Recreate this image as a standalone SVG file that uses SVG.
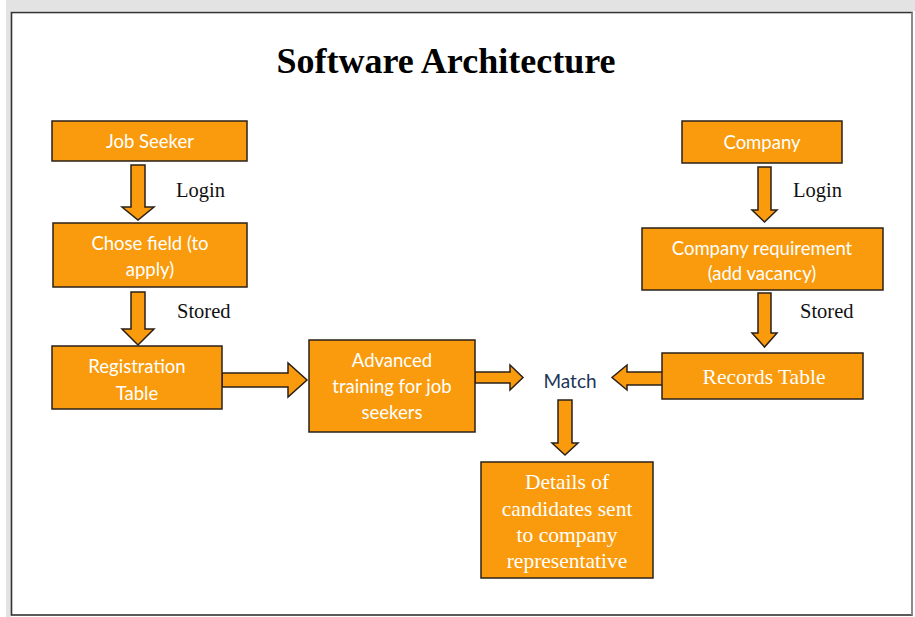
<svg xmlns="http://www.w3.org/2000/svg" width="915" height="617" viewBox="0 0 915 617">
<style>
.box{fill:#f99b0c;stroke:#2b2018;stroke-width:1.5}
.arr{fill:#f99b0c;stroke:#2b2018;stroke-width:1.5;stroke-linejoin:miter}
.sans{font-family:Lato,"Open Sans","Liberation Sans",sans-serif;font-size:18.5px;fill:#ffffff;text-anchor:middle}
.serifw{font-family:"Liberation Serif","Times New Roman",serif;font-size:21.5px;fill:#ffffff;text-anchor:middle}
.lbl{font-family:"Liberation Serif","Times New Roman",serif;font-size:20.5px;fill:#111111}
</style>
<rect x="0" y="0" width="915" height="617" fill="#ffffff"/>
<rect x="6" y="0" width="909" height="11" fill="#e3e3e3"/>
<rect x="6" y="0" width="5" height="617" fill="#e3e3e3"/>
<rect x="11.5" y="12.5" width="900.5" height="602.5" fill="#ffffff" stroke="#333333" stroke-width="1.6"/>
<line x1="912" y1="12.5" x2="912" y2="615" stroke="#8a8a8a" stroke-width="2"/>
<text x="446" y="73" font-family="'Liberation Serif','Times New Roman',serif" font-size="36" font-weight="bold" text-anchor="middle" fill="#000000">Software Architecture</text>

<g id="connectors">
<path class="arr" d="M131,165 H145 V207 H154 L138,220 L122,207 H131 Z"/>
<path class="arr" d="M131,292 H145 V329 H154 L138,345 L122,329 H131 Z"/>
<path class="arr" d="M222,373 H288 V363 L307,380 L288,397 V387 H222 Z"/>
<path class="arr" d="M475,372 H510 V365 L523,377.5 L510,390 V383 H475 Z"/>
<path class="arr" d="M663,372 H627 V365 L612,377.5 L627,390 V385 H663 Z"/>
<path class="arr" d="M558,400 H572 V443 H578 L565,455 L552,443 H558 Z"/>
<path class="arr" d="M758,167 H771 V210 H777 L764.5,222 L752,210 H758 Z"/>
<path class="arr" d="M758,293 H771 V333 H777 L764.5,347 L752,333 H758 Z"/>
<text class="lbl" x="176" y="197">Login</text>
<text class="lbl" x="177" y="318">Stored</text>
<text class="lbl" x="793" y="197">Login</text>
<text class="lbl" x="800" y="318">Stored</text>
<text x="570" y="388" font-family="Lato,'Open Sans','Liberation Sans',sans-serif" font-size="19" fill="#1c3557" text-anchor="middle">Match</text>
</g>

<g id="job-seeker">
<rect class="box" x="52" y="121" width="195" height="40"/>
<text class="sans" x="150" y="148">Job Seeker</text>
</g>
<g id="chose-field">
<rect class="box" x="53" y="223" width="194" height="64"/>
<text class="sans" x="150" y="250">Chose field (to</text>
<text class="sans" x="150" y="276">apply)</text>
</g>
<g id="registration-table">
<rect class="box" x="52" y="346" width="170" height="63"/>
<text class="sans" x="137" y="373">Registration</text>
<text class="sans" x="137" y="400">Table</text>
</g>
<g id="advanced-training">
<rect class="box" x="309" y="340" width="166" height="92"/>
<text class="sans" x="392" y="367">Advanced</text>
<text class="sans" x="392" y="393">training for job</text>
<text class="sans" x="392" y="419">seekers</text>
</g>
<g id="company">
<rect class="box" x="682" y="121" width="160" height="42"/>
<text class="sans" x="762" y="149">Company</text>
</g>
<g id="company-requirement">
<rect class="box" x="642" y="228" width="241" height="62"/>
<text class="sans" x="762" y="255">Company requirement</text>
<text class="sans" x="762" y="280">(add vacancy)</text>
</g>
<g id="records-table">
<rect class="box" x="662" y="353" width="201" height="46"/>
<text class="serifw" x="764" y="384">Records Table</text>
</g>
<g id="details">
<rect class="box" x="481" y="462" width="172" height="116"/>
<text class="serifw" x="567" y="489">Details of</text>
<text class="serifw" x="567" y="516">candidates sent</text>
<text class="serifw" x="567" y="542">to company</text>
<text class="serifw" x="567" y="568">representative</text>
</g>
</svg>
